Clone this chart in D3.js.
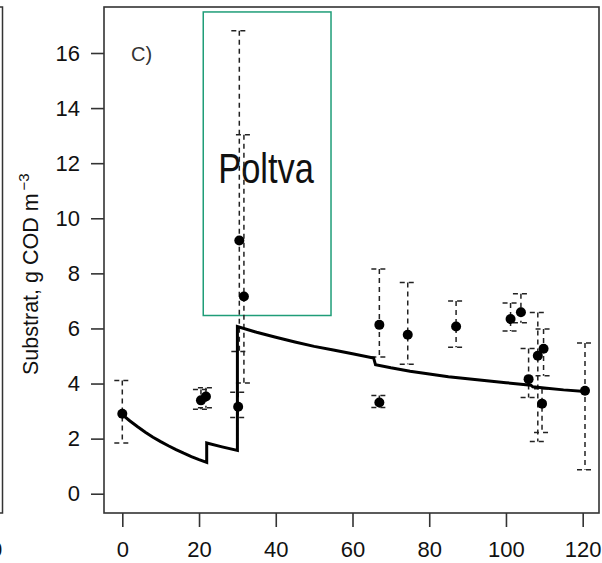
<!DOCTYPE html>
<html>
<head>
<meta charset="utf-8">
<script src="https://cdn.jsdelivr.net/npm/d3@7"></script>
<style>
    body { margin: 0; background: #fff; }
    svg { display: block; font-family: "Liberation Sans", Arial, sans-serif; }
</style>
</head>
<body>
<div id="chart"></div>
<script>
// observed substrate (g COD m^-3) with error ranges
const obsDay  = [0, 20.5, 21.8, 30.2, 30.5, 31.7, 67, 67, 74.4, 87, 101.2, 103.9, 105.9, 108.3, 109.8, 109.4, 120.6];
const obsVal  = [2.90, 3.39, 3.53, 3.16, 9.19, 7.16, 6.13, 3.31, 5.77, 6.07, 6.34, 6.59, 4.16, 5.01, 5.26, 3.27, 3.74];
const obsHigh = [4.11, 3.78, 3.85, 3.68, 16.81, 13.03, 8.16, 3.57, 7.67, 7.00, 6.92, 7.26, 5.27, 6.58, 5.98, 3.81, 5.47];
const obsLow  = [1.84, 3.07, 3.12, 2.77, 5.16, 4.02, 4.96, 3.13, 4.70, 5.32, 5.91, 6.21, 3.49, 1.90, 4.28, 2.22, 0.87];

// simulated substrate
const modelDay = [0, 2, 4, 6, 8, 10, 12, 14, 16, 18, 20, 22, 22, 26, 30, 30, 35, 40, 45, 50, 55, 60, 65.5, 66,
                  70, 75, 80, 85, 90, 95, 100, 106.5, 107, 110, 115, 120.6];
const modelVal = [2.87, 2.64, 2.43, 2.23, 2.05, 1.89, 1.74, 1.60, 1.47, 1.35, 1.24, 1.14, 1.84, 1.70, 1.57, 6.07,
                  5.86, 5.68, 5.51, 5.35, 5.22, 5.08, 4.93, 4.68, 4.57, 4.45, 4.35, 4.25, 4.17, 4.10, 4.03, 3.94,
                  3.88, 3.84, 3.77, 3.71];

const xTicks = [0, 20, 40, 60, 80, 100, 120];
const yTicks = [0, 2, 4, 6, 8, 10, 12, 14, 16];

// highlighted region (Poltva)
const boxDays = [21.1, 54.4];
const boxVals = [6.47, 17.49];

class SubstrateChart {

    constructor(parentElement) {
        this.parentElement = parentElement;
        this.initVis();
    }

    initVis() {
        let vis = this;

        vis.margin = {top: 7, right: 3, bottom: 50, left: 104};
        vis.totalWidth = 602;
        vis.totalHeight = 563;
        vis.width = vis.totalWidth - vis.margin.left - vis.margin.right;
        vis.height = 506;

        vis.svg = d3.select(`#${vis.parentElement}`)
            .append("svg")
            .attr("width", vis.totalWidth)
            .attr("height", vis.totalHeight);

        vis.svg.append("rect")
            .attr("width", vis.totalWidth)
            .attr("height", vis.totalHeight)
            .attr("fill", "white");

        vis.g = vis.svg.append("g")
            .attr("transform", `translate(${vis.margin.left},${vis.margin.top})`);

        vis.x = d3.scaleLinear()
            .domain([-4.77, 124.25])
            .range([0, vis.width]);

        vis.y = d3.scaleLinear()
            .domain([-0.70, 17.67])
            .range([vis.height, 0]);

        vis.drawFrame();
        vis.updateVis();
    }

    drawFrame() {
        let vis = this;

        // piece of the neighbouring panel on the left (cut by the image edge, as in the source)
        vis.svg.append("path")
            .attr("d", `M-10,${vis.margin.top + vis.height}H2.5V${vis.margin.top}H-10`)
            .attr("fill", "none")
            .attr("stroke", "#333")
            .attr("stroke-width", 1.5);
        vis.svg.append("text")
            .attr("x", -4)
            .attr("y", 557)
            .attr("text-anchor", "middle")
            .style("font-size", "22px")
            .style("fill", "#111")
            .text("0");

        // plot box
        vis.g.append("rect")
            .attr("width", vis.width)
            .attr("height", vis.height)
            .attr("fill", "none")
            .attr("stroke", "#333")
            .attr("stroke-width", 1.6);

        // y axis (labels horizontal)
        let yAxis = vis.g.append("g")
            .attr("class", "y-axis")
            .call(d3.axisLeft(vis.y).tickValues(yTicks).tickSize(13).tickPadding(11));
        yAxis.select(".domain").remove();
        yAxis.selectAll("line").attr("stroke", "#333").attr("stroke-width", 1.6);
        yAxis.selectAll("text")
            .style("font-size", "22px")
            .style("font-family", "Liberation Sans, Arial, sans-serif")
            .style("fill", "#111");

        // x axis
        let xAxis = vis.g.append("g")
            .attr("class", "x-axis")
            .attr("transform", `translate(0,${vis.height})`)
            .call(d3.axisBottom(vis.x).tickValues(xTicks).tickSize(14).tickPadding(14));
        xAxis.select(".domain").remove();
        xAxis.selectAll("line").attr("stroke", "#333").attr("stroke-width", 1.6);
        xAxis.selectAll("text")
            .style("font-size", "22px")
            .style("font-family", "Liberation Sans, Arial, sans-serif")
            .style("fill", "#111");

        // y axis title
        let yTitle = vis.svg.append("text")
            .attr("transform", "translate(38,375) rotate(-90)")
            .style("font-size", "21.5px")
            .style("fill", "#111");
        yTitle.append("tspan").text("Substrat, g COD m");
        yTitle.append("tspan")
            .attr("dy", -9)
            .attr("dx", 3)
            .style("font-size", "15px")
            .text("\u22123");

        // panel letter
        vis.g.append("text")
            .attr("x", 27)
            .attr("y", 54)
            .style("font-size", "20px")
            .style("fill", "#333")
            .text("C)");
    }

    updateVis() {
        let vis = this;

        // Poltva box
        vis.g.append("rect")
            .attr("x", vis.x(boxDays[0]))
            .attr("y", vis.y(boxVals[1]))
            .attr("width", vis.x(boxDays[1]) - vis.x(boxDays[0]))
            .attr("height", vis.y(boxVals[0]) - vis.y(boxVals[1]))
            .attr("fill", "none")
            .attr("stroke", "#1f9d78")
            .attr("stroke-width", 1.5);

        vis.g.append("text")
            .attr("transform", `translate(${vis.x(boxDays[0]) + 15},176) scale(0.82,1)`)
            .style("font-size", "42px")
            .style("fill", "#111")
            .text("Poltva");

        let obs = obsDay.map((d, i) => ({day: d, val: obsVal[i], hi: obsHigh[i], lo: obsLow[i]}));

        // error bars: dashed stems and caps
        let bars = vis.g.selectAll(".err")
            .data(obs)
            .enter()
            .append("g")
            .attr("class", "err")
            .attr("fill", "none")
            .attr("stroke", "#222")
            .attr("stroke-width", 1.5)
            .attr("stroke-dasharray", "5,4");

        bars.append("path")
            .attr("d", d => `M${vis.x(d.day)},${vis.y(d.hi)}V${vis.y(d.lo)}`);
        bars.append("path")
            .attr("d", d => `M${vis.x(d.day) - 8},${vis.y(d.hi)}h16`);
        bars.append("path")
            .attr("d", d => `M${vis.x(d.day) - 8},${vis.y(d.lo)}h16`);

        // model line
        let line = d3.line()
            .x(d => vis.x(d[0]))
            .y(d => vis.y(d[1]));

        vis.g.append("path")
            .datum(modelDay.map((d, i) => [d, modelVal[i]]))
            .attr("d", line)
            .attr("fill", "none")
            .attr("stroke", "#000")
            .attr("stroke-width", 3)
            .attr("stroke-linejoin", "miter");

        // observations
        vis.g.selectAll(".obs")
            .data(obs)
            .enter()
            .append("circle")
            .attr("class", "obs")
            .attr("cx", d => vis.x(d.day))
            .attr("cy", d => vis.y(d.val))
            .attr("r", 5)
            .attr("fill", "#000");
    }
}

new SubstrateChart("chart");
</script>
</body>
</html>
